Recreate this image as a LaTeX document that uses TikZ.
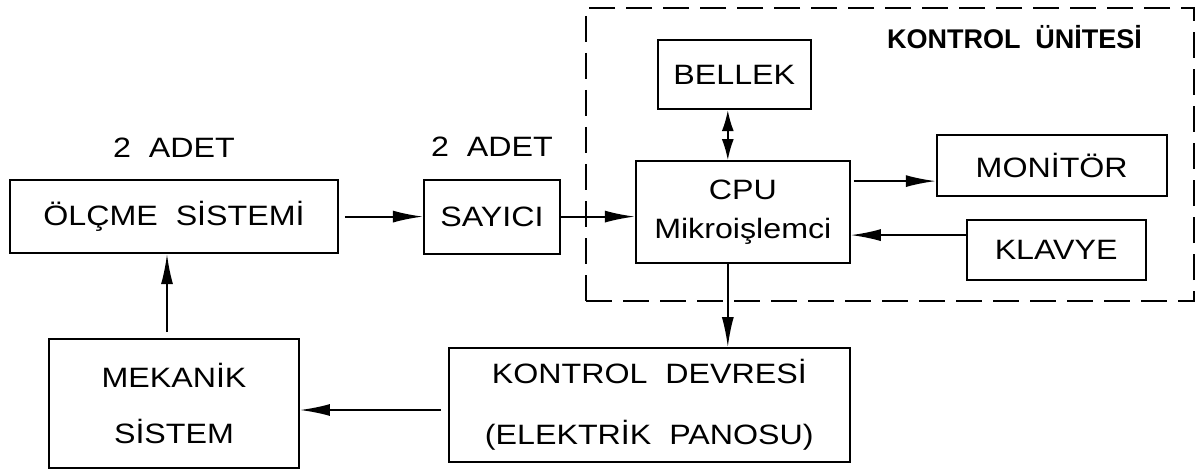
\documentclass[tikz,border=0pt]{standalone}
\usepackage{fontspec}
\setmainfont[FakeStretch=1.15,WordSpace=2.0]{Liberation Sans}
\usepackage{tikz}
\usetikzlibrary{positioning}
\usetikzlibrary{arrows.meta}

\begin{document}
\begin{tikzpicture}[
x=1pt, y=-1pt,
every path/.style={line width=1.9pt},
blok/.style={rectangle, draw=black, inner sep=0, align=center, font=\fontsize{28}{34}\selectfont},
kesik/.style={rectangle, draw=black, inner sep=0, dash pattern=on 26pt off 11pt},
every label/.style={inner sep=0, font=\fontsize{28}{34}\selectfont},
label distance=21pt,
ok/.style={-{Latex[length=30pt,width=12pt]}},
cift/.style={{Latex[length=21pt,width=12pt]}-{Latex[length=21pt,width=12pt]}}
]
\useasboundingbox (0,0) rectangle (1198,473);
\node[kesik, minimum width=608pt, minimum height=293pt] (unite) at (890,154.5) {};
\node[inner sep=0, font=\bfseries\fontsize{27}{30}\selectfont\addfontfeature{FakeStretch=1.0}, below left=17pt and 52pt of unite.north east] (baslik) {KONTROL ÜNİTESİ};
\node[blok, minimum width=250pt, minimum height=129pt] (mekanik) at (174,403.5) {MEKANİK\\[22pt]SİSTEM};
\node[blok, above=84pt of mekanik, minimum width=328pt, minimum height=73pt, label=above:2 ADET] (olcme) {ÖLÇME SİSTEMİ};
\node[blok, right=84pt of olcme, minimum width=136pt, minimum height=74pt, label=above:2 ADET] (sayici) {SAYICI};
\node[blok, right=74pt of sayici, yshift=4.5pt, minimum width=214pt, minimum height=102pt] (cpu) {CPU\\[5pt]Mikroişlemci};
\node[blok, above=50pt of cpu, xshift=-8.5pt, minimum width=153pt, minimum height=69pt] (bellek) {BELLEK};
\node[blok, right=85pt of cpu, yshift=46.5pt, minimum width=230pt, minimum height=61pt] (monitor) {MONİTÖR};
\node[blok, right=115pt of cpu, yshift=-38pt, minimum width=179pt, minimum height=60pt] (klavye) {KLAVYE};
\node[blok, below=83pt of cpu, xshift=-93.5pt, minimum width=401pt, minimum height=114pt] (devre) {KONTROL DEVRESİ\\[27pt](ELEKTRİK PANOSU)};
\draw[ok, shorten <=6pt] (olcme) -- (sayici);
\draw[ok] (sayici) -- (sayici -| cpu.west);
\draw[cift] ([xshift=-6.5pt]bellek.south) -- ([xshift=-15pt]cpu.north);
\draw[ok, shorten <=3pt] ([yshift=31pt]cpu.east) -- ([yshift=31pt]cpu.east -| monitor.west);
\draw[ok] ([yshift=15pt]klavye.west) -- ([yshift=15pt]klavye.west -| cpu.east);
\draw[ok] ([xshift=-15pt]cpu.south) -- ([xshift=-15pt]cpu.south |- devre.north);
\draw[ok, shorten <=7pt] ([yshift=-5pt]devre.west) -- ([yshift=-5pt]devre.west -| mekanik.east);
\draw[ok, shorten <=6pt] ([xshift=-7pt]mekanik.north) -- ([xshift=-7pt]mekanik.north |- olcme.south);
\end{tikzpicture}
\end{document}
